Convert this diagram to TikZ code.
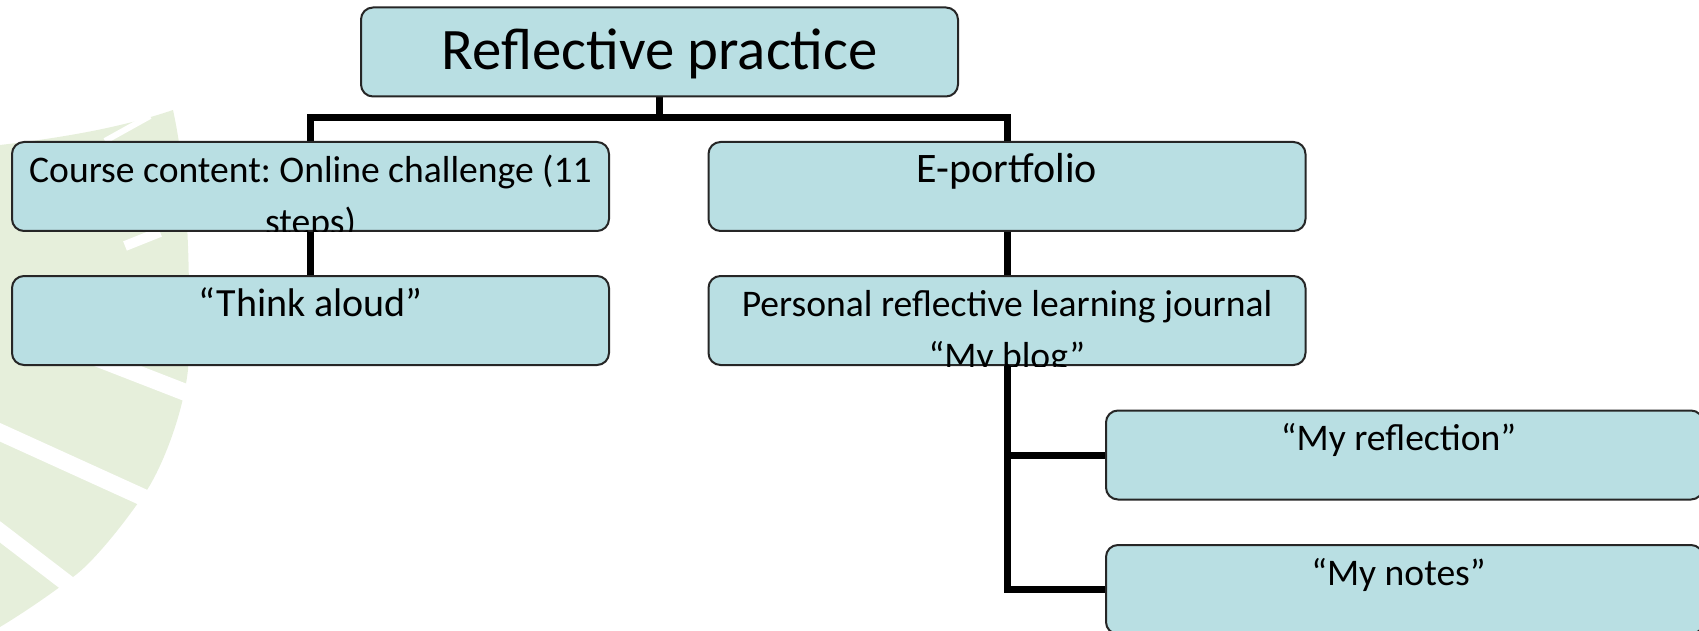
\documentclass[tikz,border=0pt]{standalone}
\usepackage{fontspec}
\setmainfont{Carlito}
\frenchspacing
\definecolor{boxblue}{RGB}{185,223,227}
\definecolor{leafgreen}{RGB}{230,239,219}
\pgfdeclarelayer{leaf}
\pgfdeclarelayer{background}
\pgfsetlayers{leaf,background,main}
\newcommand{\firstline}{\rule{0pt}{16pt}}
\tikzset{
  box/.style={draw=black!85, line width=1pt, fill=boxblue, rounded corners=6pt,
    minimum width=298.5pt, minimum height=44.5pt, inner sep=0pt},
  lbl/.style={inner sep=0pt, align=center, anchor=base, font=\fontsize{18.8pt}{22.5pt}\selectfont},
  twolbl/.style={lbl, anchor=north},
  lblbig/.style={lbl, font=\fontsize{20pt}{24pt}\selectfont},
  conn/.style={line width=3.5pt, black, line join=miter},
  vein/.style={white, line width=8.5pt}
}
\begin{document}
\begin{tikzpicture}[x=0.5pt,y=-0.5pt]
\useasboundingbox (0,0) rectangle (1699,631);
% boxes
\node[box] (root) at (659.5,52) {};
\node[box] (course) at (310.5,186.5) {};
\node[box] (think) at (310.5,320.5) {};
\node[box] (eport) at (1007,186.5) {};
\node[box] (personal) at (1007,320.5) {};
\node[box] (refl) at (1404.5,455) {};
\node[box] (notes) at (1404.5,589.5) {};
% texts
\node[inner sep=0pt, font=\fontsize{29.4pt}{35pt}\selectfont] (roottext) at ([yshift=-1pt]root.center) {Reflective practice};
\begin{scope}
\clip (course.south west) rectangle (course.north east);
\node[twolbl] (coursetext) at ([yshift=-4.5pt]course.north) {\firstline Course content: Online challenge (11\\[3.5pt]steps)};
\end{scope}
\node[lblbig] (thinktext) at ([yshift=-20.5pt]think.north) {“Think aloud”};
\node[lblbig, font=\fontsize{21pt}{24pt}\selectfont] (eporttext) at ([yshift=-21pt]eport.north) {E-portfolio};
\begin{scope}
\clip (personal.south west) rectangle (personal.north east);
\node[twolbl] (personaltext) at ([yshift=-4.5pt]personal.north) {\firstline Personal reflective learning journal\\[3.5pt]“My blog”};
\end{scope}
\node[lbl] (refltext) at ([xshift=-3pt,yshift=-20.5pt]refl.north) {“My reflection”};
\node[lbl] (notestext) at ([xshift=-3pt,yshift=-20.5pt]notes.north) {“My notes”};
% connectors
\coordinate (bar) at (0,118);
\begin{pgfonlayer}{background}
\draw[conn] (root.south) -- (root.south |- bar);
\draw[conn] (course.north) -- (course.north |- bar) -- (eport.north |- bar) -- (eport.north);
\draw[conn] (course.south) -- (think.north);
\draw[conn] (eport.south) -- (personal.north);
\draw[conn] (personal.south) |- (notes.west);
\draw[conn] (personal.south |- refl.west) -- (refl.west);
\end{pgfonlayer}
% background leaf
\begin{pgfonlayer}{leaf}
\fill[leafgreen] (173,110) .. controls (184,160) and (192,240) .. (188,370)
  .. controls (182,420) and (160,470) .. (147,490)
  .. controls (120,530) and (90,565) .. (73,577)
  .. controls (50,595) and (20,615) .. (0,627)
  -- (0,145) .. controls (60,138) and (120,128) .. (173,110) -- cycle;
\draw[vein] (30,332) -- (205,400);
\draw[vein] (-5,430) -- (160,505);
\draw[vein] (-5,528) -- (85,597);
\draw[white, line width=3pt] (150,116) -- (105,141);
\draw[white, line width=5pt] (125,246) .. controls (140,240) and (150,236) .. (160,232);
\end{pgfonlayer}
\end{tikzpicture}
\end{document}
